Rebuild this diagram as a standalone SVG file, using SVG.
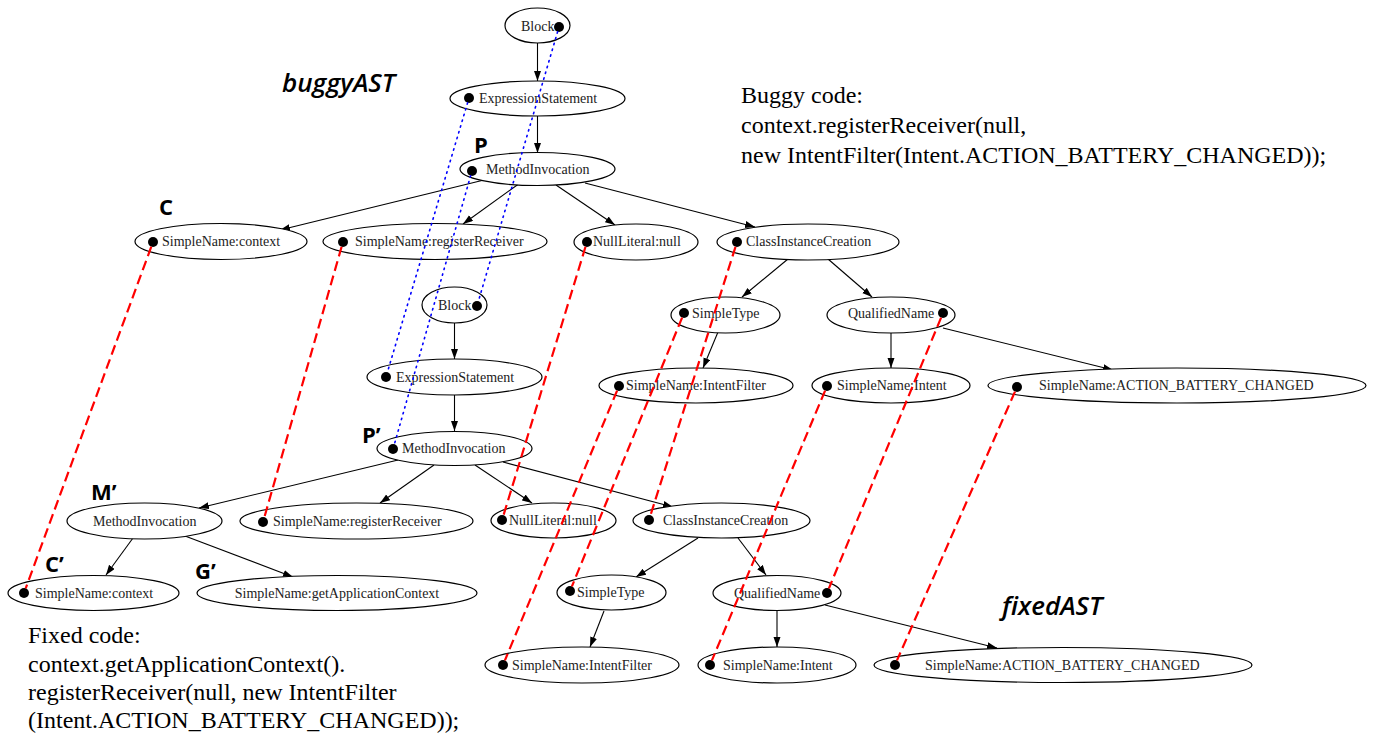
<svg xmlns="http://www.w3.org/2000/svg" width="1379" height="738" viewBox="0 0 1379 738">
<style>
.n ellipse{fill:#fff;stroke:#000;stroke-width:1.2}
.n text{font-family:"Liberation Serif","Times New Roman",serif;font-size:14px;fill:#222}
.dot{fill:#000}
.e line{stroke:#000;stroke-width:1.1;marker-end:url(#arr)}
.map line{stroke:#f00;stroke-width:2.2;stroke-dasharray:10 5;fill:none}
.blue line{stroke:#00f;stroke-width:1.6;stroke-dasharray:1.4 4.6;stroke-linecap:round}
.lab{font-family:"Open Sans","DejaVu Sans",sans-serif;font-weight:700;font-size:22px;fill:#000}
.ast{font-family:"Open Sans","DejaVu Sans",sans-serif;font-style:italic;font-weight:600;font-size:26px;fill:#000}
.code{font-family:"Liberation Serif","Times New Roman",serif;font-size:24px;fill:#000}
</style>
<defs>
<marker id="arr" markerUnits="userSpaceOnUse" markerWidth="11" markerHeight="8" refX="10" refY="3.5" orient="auto">
<path d="M0,0 L10,3.5 L0,7 z" fill="#000"/>
</marker>
</defs>
<rect width="1379" height="738" fill="#fff"/>

<g id="connectors">
<g class="e">
<line x1="537.5" y1="43" x2="537.5" y2="81"/>
<line x1="537.5" y1="116" x2="537.5" y2="153"/>
<line x1="484" y1="180" x2="280" y2="230"/>
<line x1="520" y1="183" x2="463" y2="224"/>
<line x1="556" y1="185" x2="615" y2="225"/>
<line x1="585" y1="183" x2="755" y2="227"/>
<line x1="788" y1="259" x2="742" y2="297"/>
<line x1="828" y1="259" x2="872" y2="297"/>
<line x1="718" y1="332" x2="703" y2="368"/>
<line x1="891" y1="331" x2="891" y2="368"/>
<line x1="943" y1="328" x2="1113" y2="370"/>
<line x1="454.5" y1="323" x2="454.5" y2="359"/>
<line x1="454.5" y1="395" x2="454.5" y2="431"/>
<line x1="398" y1="460" x2="199" y2="508"/>
<line x1="434" y1="465" x2="380" y2="503"/>
<line x1="475" y1="465" x2="532" y2="503"/>
<line x1="503" y1="462" x2="673" y2="507"/>
<line x1="133" y1="538" x2="106" y2="575"/>
<line x1="185" y1="536" x2="293" y2="577"/>
<line x1="698" y1="538" x2="636" y2="577"/>
<line x1="738" y1="538" x2="766" y2="575"/>
<line x1="604" y1="611" x2="590" y2="647"/>
<line x1="777" y1="611" x2="777" y2="647"/>
<line x1="825" y1="605" x2="997" y2="648"/>
</g>
</g>

<g id="buggy-block" class="n"><ellipse cx="537.5" cy="25.5" rx="32.5" ry="17.5"/><text x="521" y="30.5">Block</text><circle class="dot" cx="559" cy="27" r="5"/></g>
<g id="buggy-exprstmt" class="n"><ellipse cx="537.5" cy="98.5" rx="87.5" ry="17.5"/><text x="479" y="103">ExpressionStatement</text><circle class="dot" cx="469" cy="98" r="5"/></g>
<g id="buggy-methodinv" class="n"><ellipse cx="537.5" cy="169" rx="77.5" ry="16.5"/><text x="486" y="174">MethodInvocation</text><circle class="dot" cx="472" cy="171" r="5"/></g>
<g id="buggy-context" class="n"><ellipse cx="221" cy="241.5" rx="86" ry="18"/><text x="162" y="246">SimpleName:context</text><circle class="dot" cx="153" cy="242" r="5"/></g>
<g id="buggy-registerReceiver" class="n"><ellipse cx="435" cy="241.5" rx="112" ry="18"/><text x="355" y="246">SimpleName:registerReceiver</text><circle class="dot" cx="343" cy="242" r="5"/></g>
<g id="buggy-null" class="n"><ellipse cx="636" cy="242" rx="62" ry="18"/><text x="593" y="246">NullLiteral:null</text><circle class="dot" cx="587" cy="242" r="5"/></g>
<g id="buggy-cic" class="n"><ellipse cx="808" cy="242" rx="91" ry="18"/><text x="746" y="246">ClassInstanceCreation</text><circle class="dot" cx="737" cy="242" r="5"/></g>
<g id="buggy-simpletype" class="n"><ellipse cx="725.5" cy="315" rx="54.5" ry="18"/><text x="692" y="318">SimpleType</text><circle class="dot" cx="684" cy="313" r="5"/></g>
<g id="buggy-qualified" class="n"><ellipse cx="891" cy="315" rx="64" ry="18"/><text x="848" y="318">QualifiedName</text><circle class="dot" cx="943" cy="313" r="5"/></g>
<g id="buggy-intentfilter" class="n"><ellipse cx="696" cy="385.5" rx="97" ry="17.5"/><text x="626" y="390">SimpleName:IntentFilter</text><circle class="dot" cx="619" cy="386" r="5"/></g>
<g id="buggy-intent" class="n"><ellipse cx="891" cy="385.5" rx="79" ry="17.5"/><text x="837" y="390">SimpleName:Intent</text><circle class="dot" cx="827" cy="386" r="5"/></g>
<g id="buggy-action" class="n"><ellipse cx="1177" cy="385.5" rx="189" ry="17.5"/><text x="1039" y="390">SimpleName:ACTION_BATTERY_CHANGED</text><circle class="dot" cx="1017" cy="387" r="5"/></g>

<g id="fixed-block" class="n"><ellipse cx="454.5" cy="305" rx="32.5" ry="18"/><text x="438" y="310">Block</text><circle class="dot" cx="477" cy="306" r="5"/></g>
<g id="fixed-exprstmt" class="n"><ellipse cx="454.5" cy="377" rx="87.5" ry="18"/><text x="396" y="382">ExpressionStatement</text><circle class="dot" cx="386" cy="377" r="5"/></g>
<g id="fixed-methodinv" class="n"><ellipse cx="454.5" cy="448.5" rx="77.5" ry="17"/><text x="402" y="453">MethodInvocation</text><circle class="dot" cx="393" cy="449" r="5"/></g>
<g id="fixed-methodinv2" class="n"><ellipse cx="144.5" cy="521" rx="77.5" ry="18"/><text x="93" y="526">MethodInvocation</text></g>
<g id="fixed-registerReceiver" class="n"><ellipse cx="356.5" cy="521" rx="116.5" ry="18"/><text x="273" y="526">SimpleName:registerReceiver</text><circle class="dot" cx="263" cy="522" r="5"/></g>
<g id="fixed-null" class="n"><ellipse cx="553.5" cy="520.5" rx="62.5" ry="17.5"/><text x="509" y="525">NullLiteral:null</text><circle class="dot" cx="502" cy="520" r="5"/></g>
<g id="fixed-cic" class="n"><ellipse cx="721.5" cy="520.5" rx="88.5" ry="17.5"/><text x="663" y="525">ClassInstanceCreation</text><circle class="dot" cx="649" cy="520" r="5"/></g>
<g id="fixed-context" class="n"><ellipse cx="93.5" cy="593" rx="85.5" ry="17.5"/><text x="35" y="598">SimpleName:context</text><circle class="dot" cx="24" cy="593" r="5"/></g>
<g id="fixed-getappctx" class="n"><ellipse cx="337" cy="593" rx="140" ry="17.5"/><text x="337" y="598" text-anchor="middle">SimpleName:getApplicationContext</text></g>
<g id="fixed-simpletype" class="n"><ellipse cx="611.5" cy="592.5" rx="54.5" ry="17.5"/><text x="577" y="597">SimpleType</text><circle class="dot" cx="570" cy="591" r="5"/></g>
<g id="fixed-qualified" class="n"><ellipse cx="777" cy="593" rx="64" ry="17.5"/><text x="734" y="598">QualifiedName</text><circle class="dot" cx="827" cy="593" r="5"/></g>
<g id="fixed-intentfilter" class="n"><ellipse cx="582" cy="665" rx="97" ry="18"/><text x="512" y="670">SimpleName:IntentFilter</text><circle class="dot" cx="503" cy="665" r="5"/></g>
<g id="fixed-intent" class="n"><ellipse cx="777" cy="665" rx="79" ry="18"/><text x="723" y="670">SimpleName:Intent</text><circle class="dot" cx="710" cy="665" r="5"/></g>
<g id="fixed-action" class="n"><ellipse cx="1063" cy="665" rx="189" ry="17.5"/><text x="925" y="670">SimpleName:ACTION_BATTERY_CHANGED</text><circle class="dot" cx="895" cy="665" r="5"/></g>

<g id="mappings">
<g class="map">
<line x1="151.3" y1="246.7" x2="25.7" y2="588.3"/>
<line x1="341.6" y1="246.8" x2="264.4" y2="517.2"/>
<line x1="585.5" y1="246.8" x2="503.5" y2="515.2"/>
<line x1="735.5" y1="246.8" x2="650.5" y2="515.2"/>
<line x1="682.1" y1="317.6" x2="571.9" y2="586.4"/>
<line x1="617.1" y1="390.6" x2="504.9" y2="660.4"/>
<line x1="941.1" y1="317.6" x2="828.9" y2="588.4"/>
<line x1="825.1" y1="390.6" x2="711.9" y2="660.4"/>
<line x1="1015" y1="391.6" x2="897" y2="660.4"/>
</g>
<g class="blue">
<line x1="557.6" y1="31.8" x2="478.4" y2="301.2"/>
<line x1="467.6" y1="102.8" x2="387.4" y2="372.2"/>
<line x1="470.6" y1="175.8" x2="394.4" y2="444.2"/>
</g>
</g>

<g id="labels">
<text class="lab" x="474" y="153">P</text>
<text class="lab" x="159" y="215">C</text>
<text class="lab" x="362" y="443">P’</text>
<text class="lab" x="91" y="500">M’</text>
<text class="lab" x="45" y="572">C’</text>
<text class="lab" x="195" y="579">G’</text>
<text class="ast" x="282" y="92">buggyAST</text>
<text class="ast" x="1002" y="615">fixedAST</text>
</g>

<g id="code">
<text class="code" x="741" y="103">Buggy code:</text>
<text class="code" x="741" y="133">context.registerReceiver(null,</text>
<text class="code" x="741" y="163">new IntentFilter(Intent.ACTION_BATTERY_CHANGED));</text>
<text class="code" x="28" y="643">Fixed code:</text>
<text class="code" x="28" y="672">context.getApplicationContext().</text>
<text class="code" x="28" y="700">registerReceiver(null, new IntentFilter</text>
<text class="code" x="28" y="728">(Intent.ACTION_BATTERY_CHANGED));</text>
</g>
</svg>
